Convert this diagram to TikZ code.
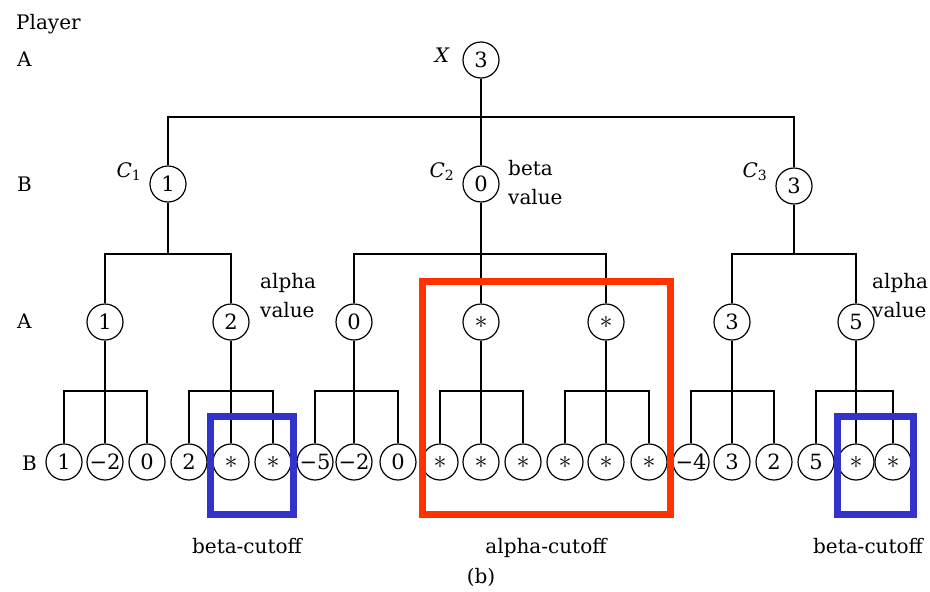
\documentclass[tikz,border=0pt]{standalone}
\usepackage{fontspec}
\usepackage{graphicx}
\setmainfont{DejaVu Serif}
\definecolor{cutblue}{RGB}{51,51,204}
\definecolor{cutred}{RGB}{255,51,0}
\newcommand{\bigast}{\scalebox{1.25}{$\ast$}}
\begin{document}
\begin{tikzpicture}[x=1pt,y=-1pt,
  nd/.style={circle,draw,line width=1.2pt,minimum size=36pt,inner sep=0pt,font=\fontsize{21}{21}\selectfont},
  lbl/.style={font=\fontsize{20}{24}\selectfont,inner sep=0pt},
  ln/.style={line width=1.2pt},
  bluebox/.style={draw=cutblue,line width=7pt},
  redbox/.style={draw=cutred,line width=7pt}]
\useasboundingbox (0,0) rectangle (930,592);
\fill[white] (0,0) rectangle (930,592);

% row labels
\node[lbl,anchor=base west] (pl) at (16,29) {Player};
\node[lbl,anchor=base west] (pa1) at (17,66) {A};
\node[lbl,anchor=base west] (pb1) at (17,191) {B};
\node[lbl,anchor=base west] (pa2) at (17,328) {A};
\node[lbl,anchor=base west] (pb2) at (22,470) {B};

% root and C level
\node[nd] (x) at (481,60) {3};
\node[lbl,anchor=base] (xl) at (442,62) {\itshape X};
\node[nd] (c1) at (168,184) {1};
\node[nd] (c2) at (481,184) {0};
\node[nd] (c3) at (794,186) {3};
\node[lbl,anchor=base] (c1l) at (129,177) {{\itshape C}\textsubscript{1}};
\node[lbl,anchor=base] (c2l) at (442,177) {{\itshape C}\textsubscript{2}};
\node[lbl,anchor=base] (c3l) at (755,177) {{\itshape C}\textsubscript{3}};
\node[lbl,anchor=base west] (bv1) at (508,175) {beta};
\node[lbl,anchor=base west] (bv2) at (508,204) {value};

% A level
\node[nd] (a1) at (105,322) {1};
\node[nd] (a2) at (231,322) {2};
\node[nd] (a3) at (354,322) {0};
\node[nd] (a4) at (481,322) {\bigast};
\node[nd] (a5) at (606,322) {\bigast};
\node[nd] (a6) at (732,322) {3};
\node[nd] (a7) at (856,322) {5};
\node[lbl,anchor=base west] (av1) at (260,288) {alpha};
\node[lbl,anchor=base west] (av2) at (260,317) {value};
\node[lbl,anchor=base west] (av3) at (872,288) {alpha};
\node[lbl,anchor=base west] (av4) at (872,317) {value};

% leaves
\foreach \xx/\t [count=\i from 0] in {64/1,105/−2,147/0,189/2,231/\bigast,273/\bigast,
  315/−5,354/−2,398/0,440/\bigast,481/\bigast,523/\bigast,565/\bigast,606/\bigast,649/\bigast,
  691/−4,732/3,774/2,816/5,856/\bigast,893/\bigast}
  \node[nd] (l\i) at (\xx,462) {\t};

% connectors
\coordinate (topbar) at (481,117);
\coordinate (abar) at (0,254);
\coordinate (leafbar) at (0,391);
\draw[ln] (x) -- (c2);
\draw[ln] (c1) |- (topbar) -| (c3);
\coordinate (b1) at (168,254);
\coordinate (b3) at (794,254);
\draw[ln] (c1) -- (b1);
\draw[ln] (a1) |- (b1) -| (a2);
\draw[ln] (c2) -- (a4);
\draw[ln] (a3) |- (a4 |- abar) -| (a5);
\draw[ln] (c3) -- (b3);
\draw[ln] (a6) |- (b3) -| (a7);
\foreach \a/\p/\m/\q in {a1/l0/l1/l2,a2/l3/l4/l5,a3/l6/l7/l8,a4/l9/l10/l11,
  a5/l12/l13/l14,a6/l15/l16/l17,a7/l18/l19/l20}{
  \draw[ln] (\a) -- (\m);
  \draw[ln] (\p) |- (\m |- leafbar) -| (\q);
}

% cutoff boxes
\draw[bluebox] (210.5,416.5) rectangle (293.5,514.5);
\draw[bluebox] (837.5,416.5) rectangle (913.5,514.5);
\draw[redbox] (422.5,281.5) rectangle (670.5,514.5);

% captions
\node[lbl,anchor=base] (cap1) at (247,553) {beta-cutoff};
\node[lbl,anchor=base] (cap2) at (546,553) {alpha-cutoff};
\node[lbl,anchor=base] (cap3) at (868,553) {beta-cutoff};
\node[lbl] (capb) at (481,577) {(b)};
\end{tikzpicture}
\end{document}
